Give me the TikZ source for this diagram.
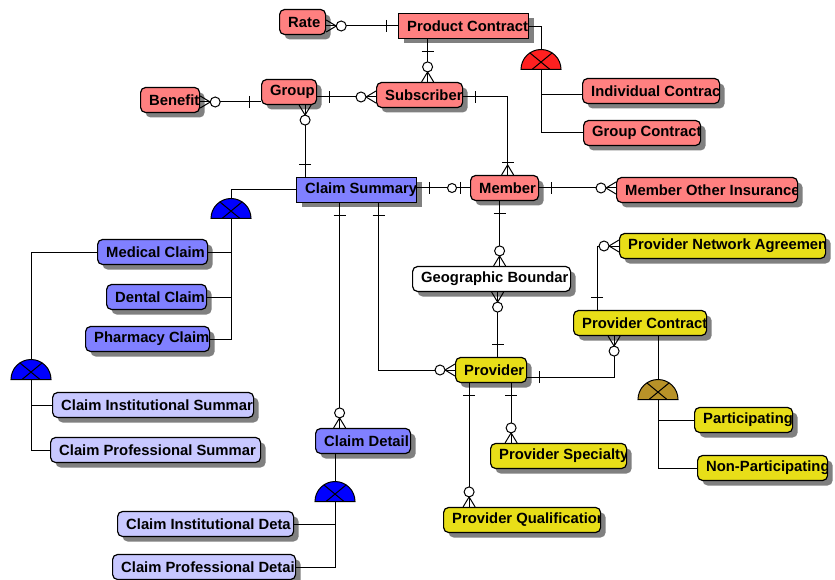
\documentclass[tikz,border=0pt]{standalone}
\usepackage{fontspec}
\setmainfont{Liberation Sans}
\usetikzlibrary{shadows}
\usetikzlibrary{shapes.geometric}
\definecolor{entpink}{RGB}{255,128,128}
\definecolor{entblue}{RGB}{128,128,255}
\definecolor{entlblue}{RGB}{200,200,255}
\definecolor{entyellow}{RGB}{232,222,24}
\definecolor{catred}{RGB}{255,32,32}
\definecolor{catbrown}{RGB}{184,146,40}
\tikzset{%
  ent/.style = {draw,fill=#1,rounded corners=5pt,minimum height=25pt,
        inner sep=0pt,anchor=west,line width=1.2pt,
        drop shadow={shadow xshift=5pt,shadow yshift=-5pt,
        fill=black!50,opacity=1}},
  kent/.style = {ent=#1,sharp corners},
  lbl/.style = {path picture={\node[anchor=west,inner sep=0pt,
        minimum width=0pt,minimum height=0pt,draw=none,fill=none,
        font=\bfseries\fontsize{14.8}{16}\selectfont]
        at ([xshift=8pt]path picture bounding box.west) {#1};}},
  cat/.style = {semicircle,draw,fill=#1,inner sep=0pt,
        minimum width=40pt,minimum height=20pt,anchor=chord center,
        path picture={\draw ([xshift=-9pt]path picture bounding box.south)
        -- ++(20pt,16.5pt) ([xshift=9pt]path picture bounding box.south)
        -- ++(-20pt,16.5pt);}},
  pics/one/.style = {code={\draw (12pt,-6pt) -- (12pt,6pt);}},
  pics/zmany/.style = {code={\draw (0pt,6pt) -- (10pt,0pt) -- (0pt,-6pt);
        \draw[fill=white] (15pt,0pt) circle[radius=5pt];}},
  pics/omany/.style = {code={\draw (0pt,6pt) -- (10pt,0pt) -- (0pt,-6pt);
        \draw (12pt,-6pt) -- (12pt,6pt);}},
  pics/zone/.style = {code={\draw (10pt,-6pt) -- (10pt,6pt);
        \draw[fill=white] (18pt,0pt) circle[radius=4.5pt];}}
}
\begin{document}
\begin{tikzpicture}[x=1pt,y=-1pt,line width=1pt]
    \useasboundingbox (0,0) rectangle (835,580);
    % entities
    \node[ent=entpink,lbl=Rate,minimum width=46pt] (rate) at (279,22) {};
    \node[kent=entpink,lbl=Product Contract,minimum width=130pt] (prodcon) at (398,26) {};
    \node[ent=entpink,lbl=Subscriber,minimum width=86pt] (subscriber) at (376,95) {};
    \node[ent=entpink,lbl=Group,minimum width=55pt] (group) at (261,92) {};
    \node[ent=entpink,lbl=Benefit,minimum width=59pt] (benefit) at (140,100) {};
    \node[ent=entpink,lbl=Individual Contrac,minimum width=137pt] (indcontract) at (582,91) {};
    \node[ent=entpink,lbl=Group Contract,minimum width=117pt] (grpcontract) at (583,133) {};
    \node[kent=entblue,lbl=Claim Summary,minimum width=120pt] (claimsum) at (296,190) {};
    \node[ent=entpink,lbl=Member,minimum width=68pt] (member) at (470,188) {};
    \node[ent=entpink,lbl=Member Other Insurance,minimum width=181pt] (memother) at (616,190) {};
    \node[ent=entyellow,lbl=Provider Network Agreemen,minimum width=206pt] (netagree) at (619,246) {};
    \node[ent=white,lbl=Geographic Boundar,minimum width=158pt] (geo) at (412,279) {};
    \node[ent=entyellow,lbl=Provider,minimum width=71pt] (provider) at (455,370) {};
    \node[ent=entyellow,lbl=Provider Contract,minimum width=133pt] (provcontract) at (573,323) {};
    \node[ent=entyellow,lbl=Participating,minimum width=98pt] (particip) at (694,420) {};
    \node[ent=entyellow,lbl=Non-Participating,minimum width=130pt] (nonparticip) at (697,468) {};
    \node[ent=entyellow,lbl=Provider Specialty,minimum width=136pt] (provspec) at (490,456) {};
    \node[ent=entyellow,lbl=Provider Qualification,minimum width=157pt] (provqual) at (443,520) {};
    \node[ent=entblue,lbl=Medical Claim,minimum width=110pt] (medical) at (97,252) {};
    \node[ent=entblue,lbl=Dental Claim,minimum width=100pt] (dental) at (106,297) {};
    \node[ent=entblue,lbl=Pharmacy Claim,minimum width=124pt] (pharmacy) at (85,339) {};
    \node[ent=entlblue,lbl=Claim Institutional Summar,minimum width=201pt] (instsum) at (52,405) {};
    \node[ent=entlblue,lbl=Claim Professional Summar,minimum width=210pt] (profsum) at (50,450) {};
    \node[ent=entblue,lbl=Claim Detail,minimum width=95pt] (claimdet) at (315,441) {};
    \node[ent=entlblue,lbl=Claim Institutional Deta,minimum width=176pt] (instdet) at (117,524) {};
    \node[ent=entlblue,lbl=Claim Professional Detai,minimum width=183pt] (profdet) at (112,567) {};

    % subtype symbols
    \node[cat=catred] (redcat) at (541,70) {};
    \node[cat=blue] (bluecat) at (231,219) {};
    \node[cat=blue] (bluecat2) at (31,380) {};
    \node[cat=blue] (bluecat3) at (335,502) {};
    \node[cat=catbrown] (browncat) at (658,400) {};

    \draw ([yshift=-1pt]prodcon.east) -| (redcat.apex);
    \draw (redcat.chord center) |- (grpcontract.west);
    \draw (redcat.chord center |- indcontract.west) ++(0,4) -- ([yshift=-4pt]indcontract.west);
    \draw (claimsum.west) -| (bluecat.apex);
    \draw (bluecat.chord center) |- (pharmacy.east);
    \draw (bluecat.chord center |- medical.east) -- (medical.east);
    \draw (bluecat.chord center |- dental.east) -- (dental.east);
    \draw (medical.west) -| (bluecat2.apex);
    \draw (bluecat2.chord center) |- (profsum.west);
    \draw (bluecat2.chord center |- instsum.west) -- (instsum.west);
    \draw (claimdet.south -| bluecat3.apex) -- (bluecat3.apex);
    \draw (bluecat3.chord center) |- (profdet.east);
    \draw (bluecat3.chord center |- instdet.east) -- (instdet.east);
    \draw (provcontract.south -| browncat.apex) -- (browncat.apex);
    \draw (browncat.chord center) |- (nonparticip.west);
    \draw (browncat.chord center |- particip.west) -- (particip.west);

    % relationships
    \draw (prodcon.west -| rate.east) -- (prodcon.west);
    \pic at (prodcon.west -| rate.east) {zmany};
    \pic[rotate=180] at (prodcon.west) {one};

    \draw ([xshift=8pt]subscriber.north) -- ([xshift=8pt]subscriber.north |- prodcon.south);
    \pic[rotate=-90] at ([xshift=8pt]subscriber.north |- prodcon.south) {one};
    \pic[rotate=90] at ([xshift=8pt]subscriber.north) {zmany};

    \draw ([yshift=-2pt]subscriber.west) -- ([yshift=-2pt]subscriber.west -| group.east);
    \pic at ([yshift=-2pt]subscriber.west -| group.east) {one};
    \pic[rotate=180] at ([yshift=-2pt]subscriber.west) {zmany};

    \draw ([yshift=-2pt]benefit.east) -- ([yshift=-2pt]benefit.east -| group.west);
    \pic at ([yshift=-2pt]benefit.east) {zmany};
    \pic[rotate=180] at ([yshift=-2pt]benefit.east -| group.west) {one};

    \draw ([xshift=16pt]group.south) -- ([xshift=16pt]group.south |- claimsum.north);
    \pic[rotate=-90] at ([xshift=16pt]group.south) {zmany};
    \pic[rotate=90] at ([xshift=16pt]group.south |- claimsum.north) {one};

    \draw ([yshift=-2pt]subscriber.east) -| ([xshift=3pt]member.north);
    \pic at ([yshift=-2pt]subscriber.east) {one};
    \pic[rotate=90] at ([xshift=3pt]member.north) {omany};

    \draw (claimsum.east |- member.west) -- (member.west);
    \pic at (claimsum.east |- member.west) {one};
    \pic[rotate=180] at (member.west) {zone};

    \draw (member.east) -- (member.east -| memother.west);
    \pic at (member.east) {one};
    \pic[rotate=180] at (member.east -| memother.west) {zmany};

    \draw ([xshift=-5pt]member.south) -- ([xshift=-5pt]member.south |- geo.north);
    \pic[rotate=-90] at ([xshift=-5pt]member.south) {one};
    \pic[rotate=90] at ([xshift=-5pt]member.south |- geo.north) {zmany};

    \draw ([xshift=6pt]geo.south) -- ([xshift=6pt]geo.south |- provider.north);
    \pic[rotate=-90] at ([xshift=6pt]geo.south) {zmany};
    \pic[rotate=90] at ([xshift=6pt]geo.south |- provider.north) {one};

    \draw ([xshift=-17pt]claimsum.south) -- ([xshift=-17pt]claimsum.south |- claimdet.north);
    \pic[rotate=-90] at ([xshift=-17pt]claimsum.south) {one};
    \pic[rotate=90] at ([xshift=-17pt]claimsum.south |- claimdet.north) {zmany};

    \draw ([xshift=22pt]claimsum.south) |- (provider.west);
    \pic[rotate=-90] at ([xshift=22pt]claimsum.south) {one};
    \pic[rotate=180] at (provider.west) {zmany};

    \draw ([yshift=-7pt]provider.east) -| ([xshift=-26pt]provcontract.south);
    \pic at ([yshift=-7pt]provider.east) {one};
    \pic[rotate=-90] at ([xshift=-26pt]provcontract.south) {zmany};

    \draw (netagree.west) -| ([xshift=-43pt]provcontract.north);
    \pic[rotate=180] at (netagree.west) {zmany};
    \pic[rotate=90] at ([xshift=-43pt]provcontract.north) {one};

    \draw ([xshift=20pt]provider.south) -- ([xshift=20pt]provider.south |- provspec.north);
    \pic[rotate=-90] at ([xshift=20pt]provider.south) {one};
    \pic[rotate=90] at ([xshift=20pt]provider.south |- provspec.north) {zmany};

    \draw ([xshift=-22pt]provider.south) -- ([xshift=-22pt]provider.south |- provqual.north);
    \pic[rotate=-90] at ([xshift=-22pt]provider.south) {one};
    \pic[rotate=90] at ([xshift=-22pt]provider.south |- provqual.north) {zmany};
\end{tikzpicture}
\end{document}
